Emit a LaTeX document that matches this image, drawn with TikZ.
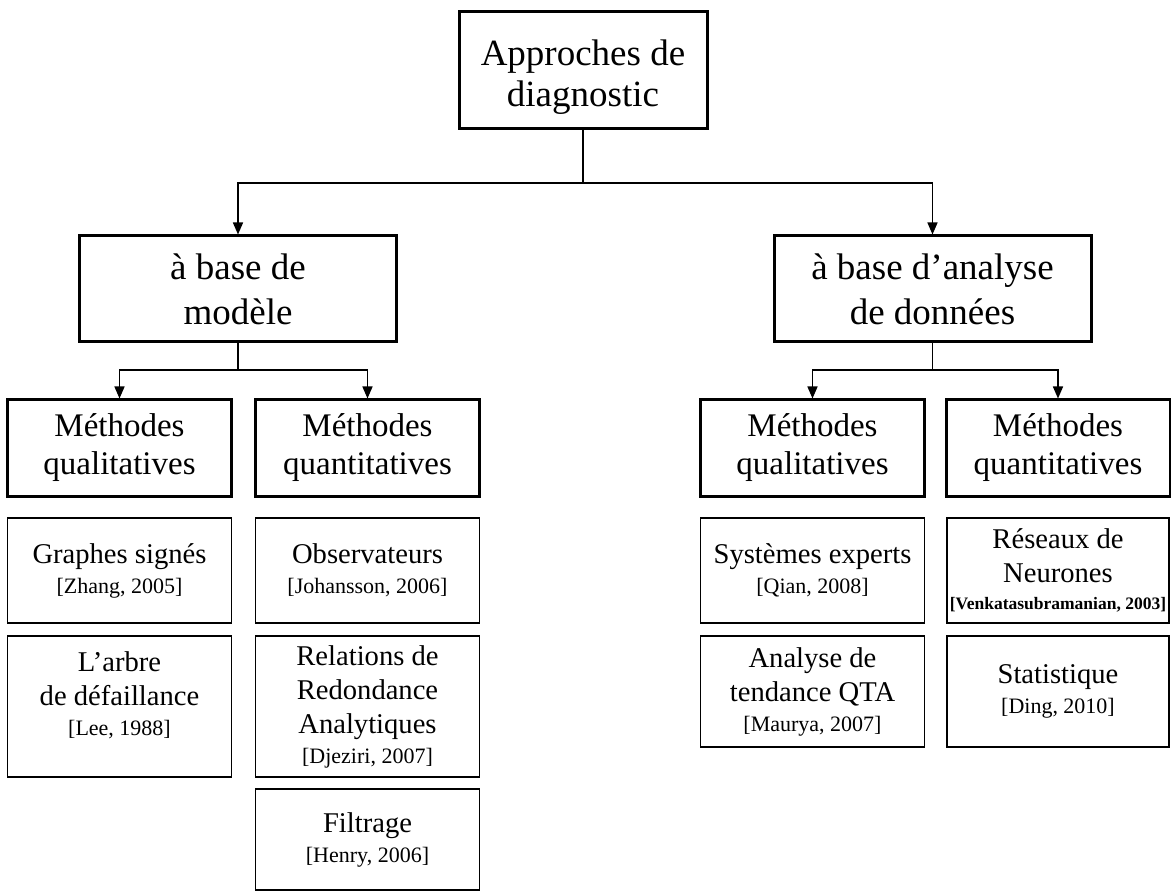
\documentclass[tikz,border=0pt]{standalone}
\usepackage{fontspec}
\setmainfont{Liberation Serif}
\usetikzlibrary{arrows.meta}
% smaller type for the bibliographic references under each method
\newcommand\citesz{\fontsize{22}{26}\selectfont}
\begin{document}
\begin{tikzpicture}[x=1pt,y=-1pt,
  heavybox/.style={draw, line width=3pt, inner sep=0pt, align=center},
  topbox/.style={heavybox, minimum width=248pt, minimum height=117pt,
    font=\fontsize{37}{41}\selectfont},
  lvlbox/.style={heavybox, minimum width=317pt, minimum height=106pt,
    font=\fontsize{37}{45}\selectfont},
  methbox/.style={heavybox, minimum width=224pt, minimum height=96pt,
    font=\fontsize{33}{38}\selectfont},
  leaf/.style={draw, line width=1.5pt, inner sep=0pt, align=center,
    minimum width=224pt, font=\fontsize{28.6}{34}\selectfont},
  conn/.style={line width=1.5pt},
  arr/.style={conn, -{Triangle[length=12pt,width=10pt]}}
]
\path[use as bounding box] (0,0) rectangle (1171,893);

% root and the two families of approaches
\node[topbox] (root) at (583,70.5) {\mbox{}\\[-2pt]Approches de\\diagnostic};
\node[lvlbox] (mod) at (238,289) {à base de\\modèle};
\node[lvlbox] (data) at (932.5,289) {à base d’analyse\\de données};

% qualitative / quantitative split
\node[methbox] (modql) at (119.5,448) {Méthodes\\qualitatives};
\node[methbox] (modqt) at (367.5,448) {Méthodes\\quantitatives};
\node[methbox] (datql) at (812.5,448) {Méthodes\\qualitatives};
\node[methbox] (datqt) at (1058,448) {Méthodes\\quantitatives};

% methods, model based
\node[leaf, minimum height=105pt] (gs) at (119.5,570.5)
  {Graphes signés\\[-4pt]{\citesz [Zhang, 2005]}};
\node[leaf, minimum height=141pt] (ad) at (119.5,706.5)
  {L’arbre\\de défaillance\\[-4pt]{\citesz [Lee, 1988]}\\[-9pt]\mbox{}};
\node[leaf, minimum height=105pt] (obs) at (367.5,570.5)
  {Observateurs\\[-4pt]{\citesz [Johansson, 2006]}};
\node[leaf, minimum height=141pt] (rra) at (367.5,706.5)
  {Relations de\\Redondance\\Analytiques\\[-4pt]{\citesz [Djeziri, 2007]}};
\node[leaf, minimum height=101pt] (fil) at (367.5,839.5)
  {Filtrage\\[-4pt]{\citesz [Henry, 2006]}};

% methods, data based
\node[leaf, minimum height=105pt] (se) at (812.5,570.5)
  {Systèmes experts\\[-4pt]{\citesz [Qian, 2008]}};
\node[leaf, minimum height=111pt] (qta) at (812.5,691.5)
  {Analyse de\\tendance QTA\\[-4pt]{\citesz [Maurya, 2007]}};
\node[leaf, minimum width=222pt, minimum height=105pt] (rn) at (1058,570.5)
  {Réseaux de\\Neurones\\[-7pt]{\fontsize{17.5}{20}\bfseries [Venkatasubramanian, 2003]}};
\node[leaf, minimum width=222pt, minimum height=111pt] (stat) at (1058,691.5)
  {Statistique\\[-4pt]{\citesz [Ding, 2010]}};

% connectors
\coordinate (j0) at (583,183);
\draw[conn] (root.south) -- (j0);
\draw[arr] (j0) -| (mod.north);
\draw[arr] (j0) -| (data.north);

\coordinate (j1) at (238,370);
\draw[conn] (mod.south) -- (j1);
\draw[arr] (j1) -| (modql.north);
\draw[arr] (j1) -| (modqt.north);

\coordinate (j2) at (932.5,370);
\draw[conn] (data.south) -- (j2);
\draw[arr] (j2) -| (datql.north);
\draw[arr] (j2) -| (datqt.north);
\end{tikzpicture}
\end{document}
